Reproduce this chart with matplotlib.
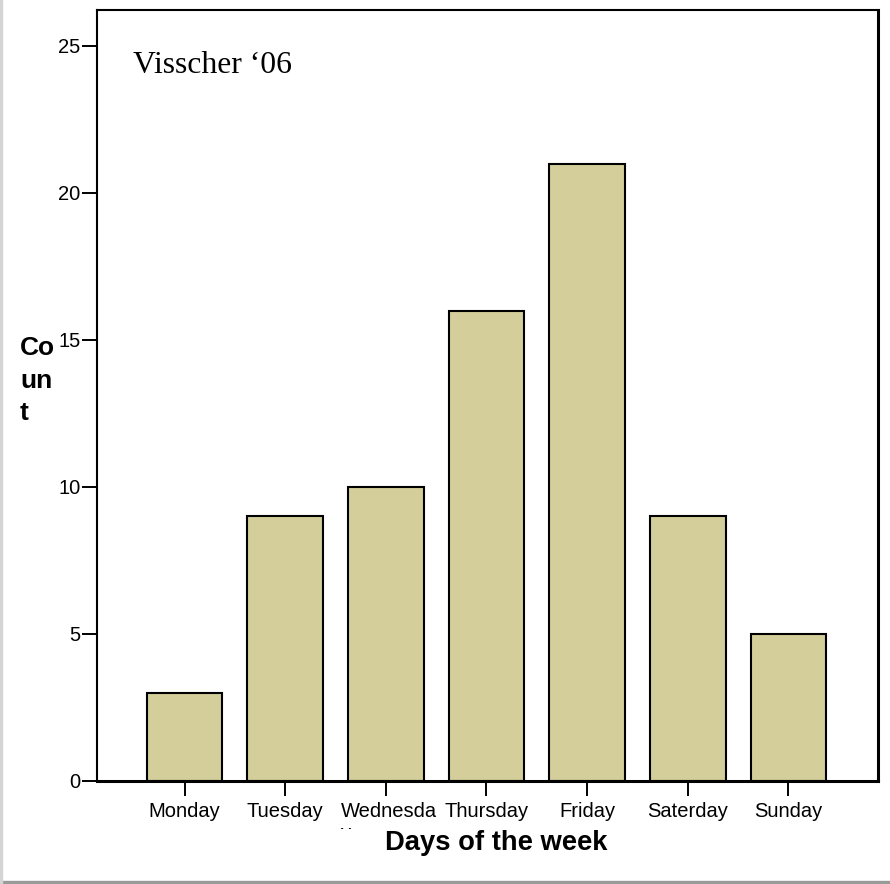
import matplotlib
matplotlib.use("Agg")
import matplotlib.pyplot as plt
from matplotlib.patches import Rectangle
from matplotlib.transforms import Bbox, TransformedBbox, ScaledTranslation

days = ['Monday', 'Tuesday', 'Wednesda\ny', 'Thursday', 'Friday', 'Saterday', 'Sunday']
counts = [3, 9, 10, 16, 21, 9, 5]
yticks = [0, 5, 10, 15, 20, 25]

plt.rcParams['font.family'] = ['Liberation Sans', 'DejaVu Sans']

fig = plt.figure(figsize=(8.9, 8.84), dpi=100)
ax = fig.add_axes([97 / 890, 1 - 781 / 884, 781 / 890, 771.5 / 884])

x = list(range(len(days)))
ax.bar(x, counts, width=0.75, color='#D3CE9A', edgecolor='black', linewidth=1.5, zorder=2)

ax.set_xlim(-0.87, 6.89)
ax.set_ylim(0, 26.24)
ax.set_yticks(yticks)
ax.set_yticklabels([str(v) for v in yticks], fontsize=14.5)
ax.set_xticks(x)
ax.set_xticklabels(days, fontsize=14.5, multialignment='left')

ax.tick_params(axis='y', direction='out', length=11, width=1.4, pad=1)
ax.tick_params(axis='x', direction='out', length=10.5, width=1.4, pad=4.5)

for side in ['left', 'top']:
    ax.spines[side].set_linewidth(1.5)
for side in ['bottom', 'right']:
    ax.spines[side].set_linewidth(2.2)

# wrapped "Wednesday" label: second line mostly cut off
wed = ax.get_xticklabels()[2]
wed.set_transform(wed.get_transform() + ScaledTranslation(3 / 100, 0, fig.dpi_scale_trans))
wed.set_clip_box(TransformedBbox(Bbox.from_extents(0, 55 / 884, 1, 1), fig.transFigure))
wed.set_clip_on(True)

ax.text(0.046, 0.9177, 'Visscher \u201806', transform=ax.transAxes,
        fontsize=22.8, family=['Liberation Serif', 'DejaVu Serif'], va='baseline', ha='left')

fig.text(496.5 / 890, 1 - 850 / 884, 'Days of the week', fontsize=19.7, fontweight='bold',
         ha='center', va='baseline')
fig.text(20 / 890, 1 - 336 / 884, 'Co\nun\nt', fontsize=19, fontweight='bold',
         ha='left', va='top', linespacing=1.45)

# grey frame edges of the original screenshot
fig.patches.append(Rectangle((0, 0), 1, 3 / 884, transform=fig.transFigure,
                             color='#9a9a9a', zorder=0))
fig.patches.append(Rectangle((0, 0), 2 / 890, 1, transform=fig.transFigure,
                             color='#d4d4d4', zorder=0))

fig.savefig('out.png', dpi=100)
